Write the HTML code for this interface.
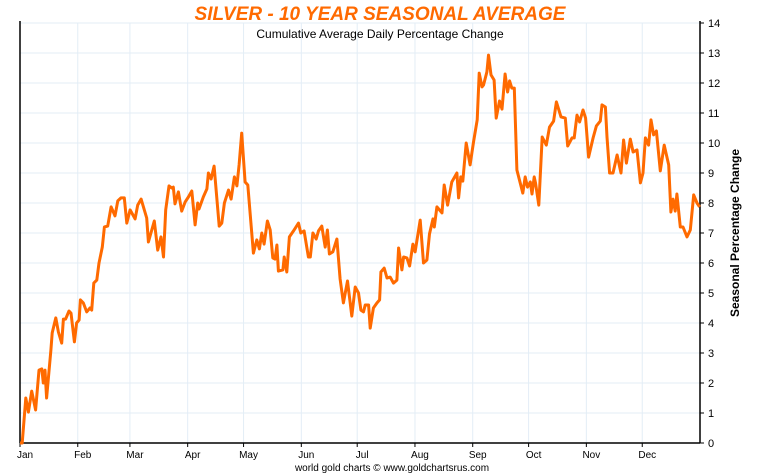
<!DOCTYPE html>
<html><head><meta charset="utf-8"><style>
body{margin:0;background:#fff;}
svg{display:block;font-family:"Liberation Sans",sans-serif;}
</style></head><body>
<svg id="chart" width="760" height="475" viewBox="0 0 760 475"></svg>
<script>
const monthLabels=["Jan","Feb","Mar","Apr","May","Jun","Jul","Aug","Sep","Oct","Nov","Dec"];
const monthStarts=[0,31,59,90,120,151,181,212,243,273,304,334];
const yTicks=[0,1,2,3,4,5,6,7,8,9,10,11,12,13,14];
const days=[0,1.2,3.1,4.5,6.3,8.4,10.2,11.7,12.5,13.4,14.3,16.6,17.3,19.2,20.6,22.4,23.3,24.5,26.3,27.4,29.2,30.4,31.7,32.4,34,35.8,37.6,38.5,39.6,41.2,42.4,44.2,45.3,47.1,48.9,51,52.5,54.2,56,57.3,59.1,61.8,63.2,65,68,68.9,72.1,73.9,75.7,77,78.2,80,81.5,82.3,83.2,85,86.8,88.6,90.4,92.2,94,95.4,96.1,98.4,100.3,101.1,102.6,104.2,106.9,108.3,109.7,111.9,113.3,115.1,116.4,117.6,119,120.8,122.3,125.3,
127.1,128.5,129.8,131,132.8,134.3,135.7,136.9,137.9,138.7,141.1,141.8,143.2,144.6,146.8,149.5,150.7,152.5,154.8,155.8,157.2,159,160.2,162,163.8,165,166.1,167.9,170.1,171.8,173.6,175.8,178.1,179.9,181.7,183,184.4,185.3,187.1,188,189.7,191.6,193,193.7,195.5,197,198.7,200.5,202.3,203.2,205,205.9,207.7,209.1,210.9,212.1,214.8,216.6,218.4,219.8,221.7,222.4,223.8,226.5,227.7,229.5,231.8,234.5,235.4,236.6,237.7,239.5,241.6,243.4,245.4,
246.5,248,248.8,250.6,251.5,252.8,254.5,255.6,257.4,258.7,260.4,261.7,262.8,264,265.3,266.7,268.5,269.9,271.2,272.4,273.9,274.8,276,276.7,278.5,280.3,282.5,284.2,286.4,287.9,290.4,292.7,294,296.3,297.5,299,300.4,302.2,303.6,305.2,307.6,309.4,311.5,312.4,314.2,315.1,316.5,318.3,320.5,322.6,324,325.5,327.6,329.1,331.2,333,334.4,335.7,337.4,338.7,340.1,341.6,343.7,345.8,348.2,349.4,350.5,351.7,352.6,354.4,355.9,358,359.8,361.6,363.4,364.8];
const values=[0,0,1.5,1.03,1.73,1.1,2.43,2.47,2.0,2.43,1.5,3.1,3.67,4.17,3.7,3.33,4.13,4.13,4.4,4.33,3.37,4.0,4.1,4.77,4.67,4.37,4.5,4.43,5.33,5.43,6.0,6.53,7.2,7.23,7.87,7.57,8.07,8.17,8.17,7.33,7.77,7.47,7.93,8.13,7.5,6.7,7.4,6.43,6.87,6.2,7.77,8.57,8.5,8.53,7.97,8.37,7.73,8.03,8.2,8.4,7.27,8.0,7.8,8.2,8.47,9.0,8.8,9.23,7.23,7.33,8.0,8.43,8.13,8.87,8.57,9.27,10.33,8.7,8.6,6.33,
6.77,6.47,7.0,6.63,7.4,7.1,6.17,6.13,6.6,5.73,5.77,6.2,5.7,6.87,7.07,7.33,7.0,7.07,6.2,6.2,7.0,6.8,7.07,7.23,6.53,7.1,6.3,6.37,6.8,5.47,4.67,5.4,4.23,5.2,5.0,4.43,4.37,4.6,4.6,3.83,4.5,4.67,4.77,5.7,5.83,5.5,5.53,5.33,5.43,6.5,5.77,6.2,6.17,5.9,6.63,6.37,7.43,6.0,6.1,6.97,7.47,7.2,7.87,7.67,8.6,7.93,8.7,9.0,8.17,8.87,8.73,10.0,9.27,10.03,10.77,
12.33,11.87,11.93,12.37,12.93,12.27,12.1,10.83,11.4,11.13,12.3,11.7,12.07,11.83,11.83,9.1,8.67,8.33,8.87,8.53,8.7,8.3,8.87,8.67,7.93,10.2,9.93,10.53,10.73,11.37,10.87,10.83,9.9,10.17,10.17,10.93,10.7,11.1,10.83,9.53,10.17,10.57,10.73,11.27,11.2,10.2,9.0,9.0,9.6,9.0,10.1,9.33,10.13,9.7,9.77,8.67,9.0,10.17,9.93,10.77,10.27,10.4,9.07,9.93,9.27,7.7,8.13,7.73,8.3,7.2,7.2,6.87,7.1,8.27,8.0,7.87,7.63];

const NS="http://www.w3.org/2000/svg";
const svg=document.getElementById("chart");
const X0=20,X1=700,Y0=443,Y1=23;
const xs=d=>X0+d*(X1-X0)/365;
const ys=v=>Y0-v*(Y0-Y1)/14;
function mk(tag,attrs,parent){const e=document.createElementNS(NS,tag);for(const k in attrs)e.setAttribute(k,attrs[k]);(parent||svg).appendChild(e);return e;}

const grid=mk("g",{});


yTicks.forEach(t=>{if(t>0)mk("line",{x1:X0,x2:X1,y1:ys(t),y2:ys(t),stroke:"#e3edf6","stroke-width":1},grid);});
monthStarts.forEach(m=>{if(m>0)mk("line",{x1:xs(m),x2:xs(m),y1:Y1,y2:Y0,stroke:"#e3edf6","stroke-width":1},grid);});

const axes=mk("g",{stroke:"#000","stroke-width":1.5});


mk("line",{x1:X0,x2:X0,y1:Y1-2,y2:Y0},axes);
mk("line",{x1:X1,x2:X1,y1:Y1-2,y2:Y0},axes);
mk("line",{x1:X0,x2:X1,y1:Y0,y2:Y0},axes);

yTicks.forEach(t=>{
  mk("line",{x1:X1,x2:X1+4,y1:ys(t),y2:ys(t),stroke:"#000"});
  const tx=mk("text",{x:X1+8,y:ys(t)+4,"font-size":11,fill:"#000"});
  tx.textContent=t;
  
  
});
monthStarts.forEach((m,i)=>{
  mk("line",{x1:xs(m),x2:xs(m),y1:Y0,y2:Y0+4,stroke:"#000"});
  const tx=mk("text",{x:xs(m)+5,y:Y0+15,"font-size":10,"text-anchor":"middle",fill:"#000"});
  tx.textContent=monthLabels[i];
  
  
});

const pts=days.map((d,i)=>xs(d).toFixed(1)+","+ys(values[i]).toFixed(1)).join(" ");
const line=mk("polyline",{points:pts,fill:"none",stroke:"#ff6a00","stroke-width":3,"stroke-linejoin":"round"});



const title=mk("text",{x:380,y:20,"font-size":19,"font-weight":"bold","font-style":"italic","text-anchor":"middle",fill:"#ff6a00"});
title.textContent="SILVER - 10 YEAR SEASONAL AVERAGE";


const sub=mk("text",{x:380,y:38,"font-size":12,"text-anchor":"middle",fill:"#000"});
sub.textContent="Cumulative Average Daily Percentage Change";


const yt=mk("text",{x:0,y:0,"font-size":12,"font-weight":"bold","text-anchor":"middle",fill:"#000",transform:"translate(739,233) rotate(-90)"});
yt.textContent="Seasonal Percentage Change";


const ft=mk("text",{x:392,y:471,"font-size":10,"text-anchor":"middle",fill:"#000"});
ft.textContent="world gold charts © www.goldchartsrus.com";


</script>
</body></html>
